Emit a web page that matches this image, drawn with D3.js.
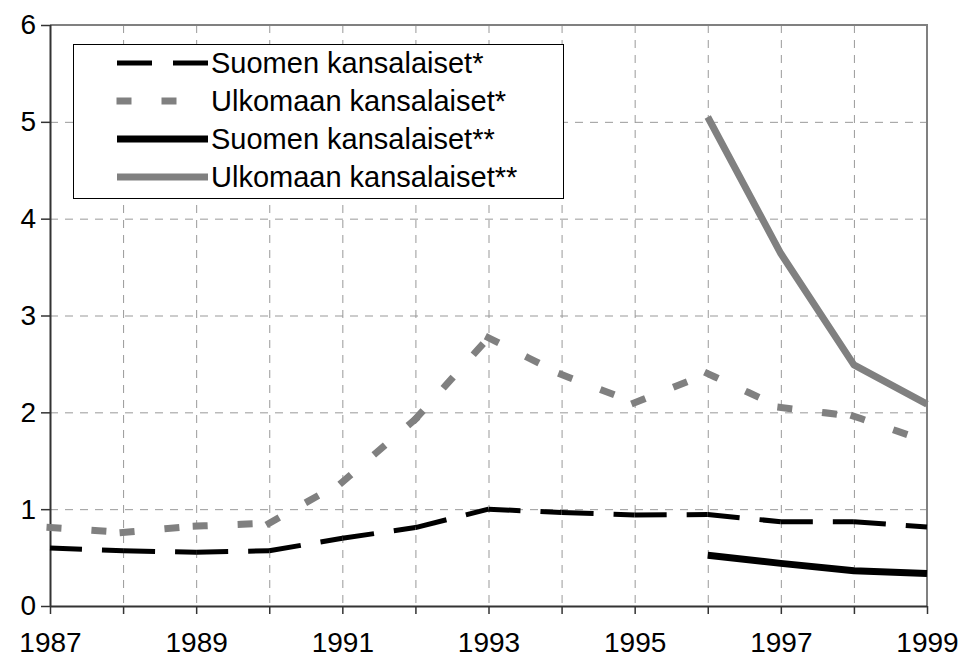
<!DOCTYPE html>
<html>
<head>
<meta charset="utf-8">
<script src="https://cdn.jsdelivr.net/npm/d3@7"></script>
<style>
  html, body { margin: 0; padding: 0; background: #fff; }
  svg { display: block; font-family: "Liberation Sans", Arial, sans-serif; }
</style>
</head>
<body>
<div id="chart"></div>
<script>
// data
const years = [1987, 1988, 1989, 1990, 1991, 1992, 1993, 1994, 1995, 1996, 1997, 1998, 1999];
const suomenA    = [0.60, 0.57, 0.555, 0.57, 0.70, 0.81, 1.00, 0.965, 0.94, 0.945, 0.87, 0.87, 0.815];
const ulkomaanA  = [0.81, 0.76, 0.825, 0.855, 1.28, 1.93, 2.77, 2.39, 2.10, 2.40, 2.05, 1.96, 1.70];
const suomenB    = [null, null, null, null, null, null, null, null, null, 0.525, 0.44, 0.365, 0.335];
const ulkomaanB  = [null, null, null, null, null, null, null, null, null, 5.05, 3.64, 2.49, 2.085];
const yTicks = [0, 1, 2, 3, 4, 5, 6];
const xTickLabels = [1987, 1989, 1991, 1993, 1995, 1997, 1999];

const series = [
  { name: "Suomen kansalaiset*",    values: suomenA,   color: "#000",    width: 5, dash: "32,20", cap: "butt",   split: true },
  { name: "Ulkomaan kansalaiset*",  values: ulkomaanA, color: "#808080", width: 7, dash: "8,37",  cap: "square", split: true },
  { name: "Suomen kansalaiset**",   values: suomenB,   color: "#000",    width: 7, dash: null,    cap: "butt",   split: false },
  { name: "Ulkomaan kansalaiset**", values: ulkomaanB, color: "#808080", width: 7, dash: null,    cap: "butt",   split: false }
];

const width = 962, height = 660;
const margin = { top: 25, right: 35, bottom: 54, left: 50 };
const axisFont = 28;
const legendFont = 29;

const svg = d3.select("#chart").append("svg")
  .attr("width", width)
  .attr("height", height);

const x = d3.scaleLinear([1987, 1999], [margin.left, width - margin.right]);
const y = d3.scaleLinear([0, 6], [height - margin.bottom, margin.top]);

// grid
const grid = svg.append("g")
  .attr("stroke", "#999")
  .attr("stroke-width", 1)
  .attr("stroke-dasharray", "8,7");

grid.selectAll("line.h")
  .data(yTicks.filter(v => v > 0 && v < 6))
  .join("line")
  .attr("class", "h")
  .attr("x1", margin.left).attr("x2", width - margin.right)
  .attr("y1", d => y(d) + 0.5).attr("y2", d => y(d) + 0.5);

grid.selectAll("line.v")
  .data(years.slice(1, -1))
  .join("line")
  .attr("class", "v")
  .attr("y1", margin.top).attr("y2", height - margin.bottom)
  .attr("x1", d => x(d) + 0.5).attr("x2", d => x(d) + 0.5);

// plot border top / right
svg.append("path")
  .attr("d", `M${margin.left},${margin.top}H${width - margin.right}V${height - margin.bottom}`)
  .attr("fill", "none")
  .attr("stroke", "#808080")
  .attr("stroke-width", 2);

// axes
const xAxis = svg.append("g")
  .attr("transform", `translate(0,${height - margin.bottom})`)
  .call(d3.axisBottom(x).tickValues(years).tickSize(8).tickPadding(18)
    .tickFormat(d => xTickLabels.includes(d) ? d : ""));

const yAxis = svg.append("g")
  .attr("transform", `translate(${margin.left},0)`)
  .call(d3.axisLeft(y).tickValues(yTicks).tickSize(9).tickPadding(5).tickFormat(d3.format("d")));

[xAxis, yAxis].forEach(g => {
  g.select(".domain").attr("stroke", "#333").attr("stroke-width", 2);
  g.selectAll(".tick line").attr("stroke", "#333").attr("stroke-width", 1.5);
  g.selectAll(".tick text")
    .attr("font-size", axisFont)
    .attr("font-family", "Liberation Sans, Arial, sans-serif")
    .attr("fill", "#000");
});
xAxis.select(".domain").attr("d", `M${margin.left},0.5H${width - margin.right}`);
yAxis.select(".domain").attr("d", `M0.5,${margin.top}V${height - margin.bottom}`);

// lines
const line = d3.line()
  .defined(d => d[1] != null)
  .x(d => x(d[0]))
  .y(d => y(d[1]));

const linesG = svg.append("g").attr("fill", "none");

series.forEach(s => {
  const pts = years.map((yr, i) => [yr, s.values[i]]);
  // dashed series restart their pattern on every segment
  const parts = s.split
    ? d3.pairs(pts).filter(([a, b]) => a[1] != null && b[1] != null)
    : [pts];
  linesG.append("g")
    .selectAll("path")
    .data(parts)
    .join("path")
    .attr("d", line)
    .attr("stroke", s.color)
    .attr("stroke-width", s.width)
    .attr("stroke-dasharray", s.dash)
    .attr("stroke-linecap", s.cap)
    .attr("stroke-linejoin", "round");
});

// legend
const legend = svg.append("g");
legend.append("rect")
  .attr("x", 73.5).attr("y", 44.5)
  .attr("width", 490).attr("height", 154)
  .attr("fill", "#fff")
  .attr("stroke", "#000")
  .attr("stroke-width", 1);

const rowY = i => 63 + 38 * i;
series.forEach((s, i) => {
  legend.append("line")
    .attr("x1", s.cap === "square" ? 120 : 117).attr("x2", 208)
    .attr("y1", rowY(i)).attr("y2", rowY(i))
    .attr("stroke", s.color)
    .attr("stroke-width", s.width)
    .attr("stroke-dasharray", s.dash === "32,20" ? "35,21" : s.dash)
    .attr("stroke-linecap", s.cap);
  legend.append("text")
    .attr("x", 211)
    .attr("y", rowY(i) + 10)
    .attr("font-size", legendFont)
    .attr("fill", "#000")
    .text(s.name);
});
</script>
</body>
</html>
